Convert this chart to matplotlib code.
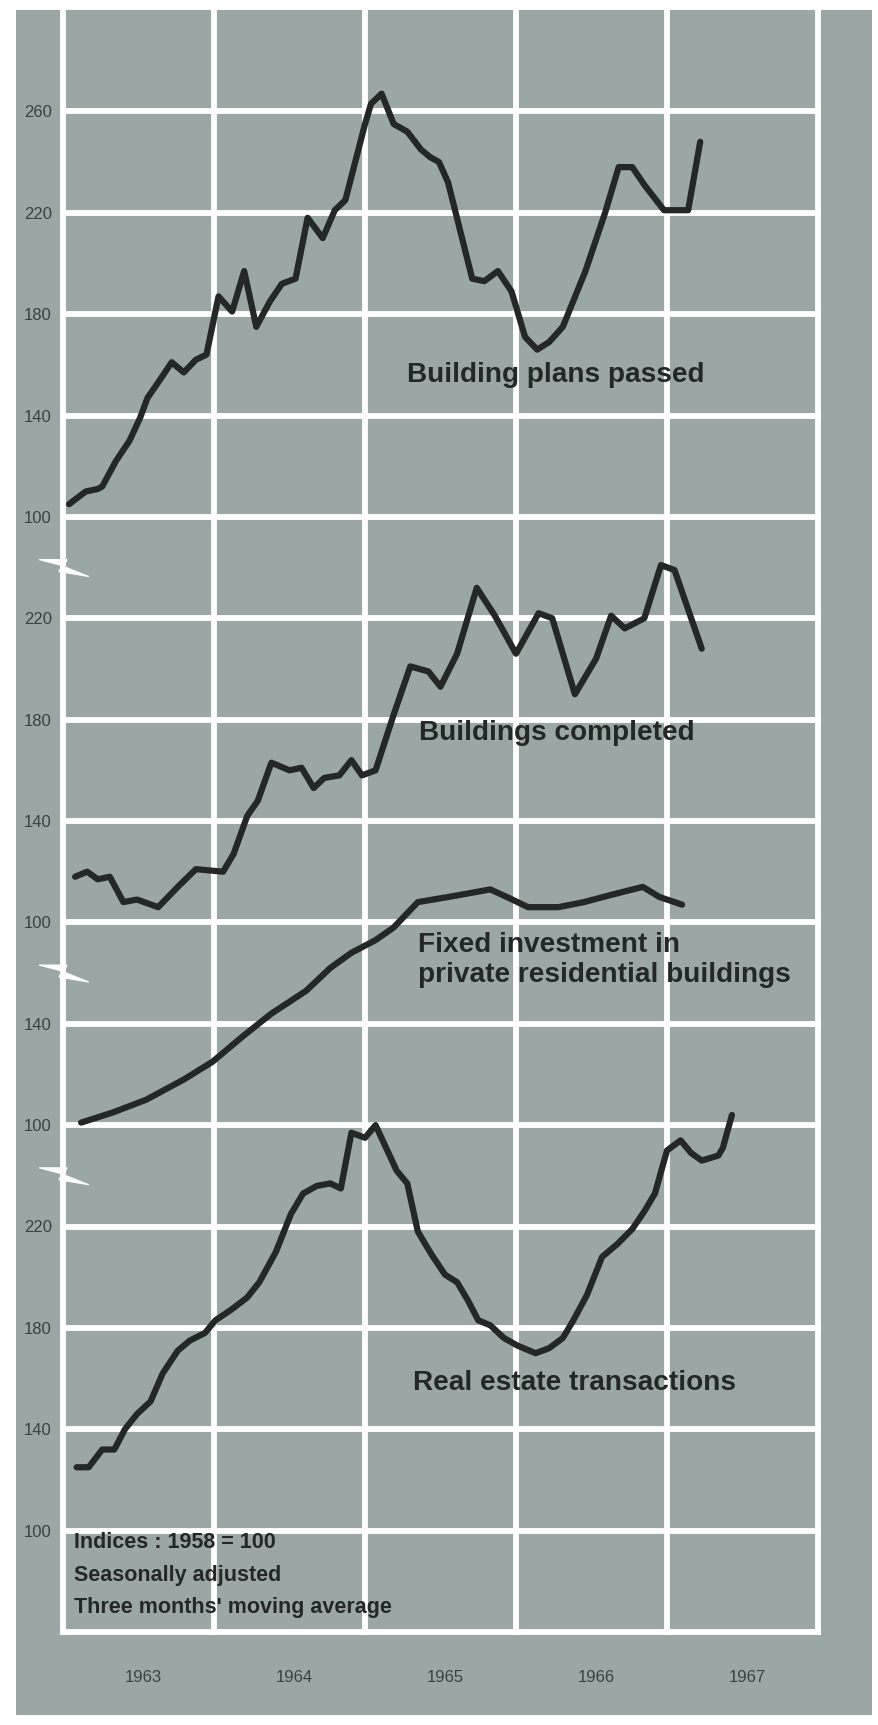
import matplotlib
matplotlib.use('Agg')
import matplotlib.pyplot as plt
from matplotlib import font_manager
from matplotlib.patches import Rectangle, Polygon
from matplotlib.transforms import Affine2D, ScaledTranslation

# ---- data (decimal years, index values) ----
plans_x = [1963.04, 1963.15, 1963.23, 1963.26, 1963.35, 1963.44, 1963.51, 1963.56, 1963.63, 1963.72,
           1963.80, 1963.88, 1963.95, 1964.03, 1964.12, 1964.20, 1964.28, 1964.37, 1964.45, 1964.54,
           1964.62, 1964.72, 1964.80, 1964.87, 1965.00, 1965.04, 1965.11, 1965.19, 1965.28, 1965.37,
           1965.43, 1965.49, 1965.55, 1965.71, 1965.79, 1965.88, 1965.97, 1966.06, 1966.14, 1966.22,
           1966.31, 1966.46, 1966.59, 1966.68, 1966.77, 1966.85, 1966.98, 1967.14, 1967.22]
plans_v = [105, 110, 111, 112, 122, 130, 139, 147, 153, 161,
           157, 162, 164, 187, 181, 197, 175, 185, 192, 194,
           218, 210, 221, 225, 255, 263, 267, 255, 252, 245,
           242, 240, 232, 194, 193, 197, 189, 171, 166, 169,
           175, 197, 220, 238, 238, 231, 221, 221, 248]

completed_x = [1963.08, 1963.16, 1963.23, 1963.31, 1963.40, 1963.49, 1963.63, 1963.76, 1963.88, 1964.06,
               1964.13, 1964.22, 1964.29, 1964.38, 1964.50, 1964.58, 1964.66, 1964.73, 1964.83, 1964.91,
               1964.98, 1965.07, 1965.19, 1965.30, 1965.42, 1965.50, 1965.61, 1965.74, 1965.86, 1966.00,
               1966.15, 1966.24, 1966.39, 1966.53, 1966.63, 1966.72, 1966.85, 1966.96, 1967.05, 1967.23]
completed_v = [118, 120, 117, 118, 108, 109, 106, 114, 121, 120,
               127, 142, 148, 163, 160, 161, 153, 157, 158, 164,
               158, 160, 182, 201, 199, 193, 206, 232, 221, 206,
               222, 220, 190, 204, 221, 216, 220, 241, 239, 208]

fixed_x = [1963.12, 1963.33, 1963.55, 1963.80, 1963.99, 1964.19, 1964.38, 1964.61, 1964.77, 1964.91,
           1965.07, 1965.19, 1965.35, 1965.55, 1965.83, 1965.94, 1966.08, 1966.28, 1966.45, 1966.64,
           1966.84, 1966.95, 1967.10]
fixed_v = [101, 105, 110, 118, 125, 135, 144, 153, 162, 168,
           173, 178, 188, 190, 193, 190, 186, 186, 188, 191,
           194, 190, 187]

estate_x = [1963.09, 1963.17, 1963.26, 1963.34, 1963.41, 1963.49, 1963.58, 1963.66, 1963.76, 1963.84,
            1963.94, 1964.01, 1964.11, 1964.22, 1964.30, 1964.41, 1964.51, 1964.59, 1964.68, 1964.77,
            1964.84, 1964.91, 1965.00, 1965.07, 1965.14, 1965.21, 1965.28, 1965.35, 1965.44, 1965.53,
            1965.61, 1965.68, 1965.75, 1965.83, 1965.92, 1966.01, 1966.13, 1966.22, 1966.31, 1966.38,
            1966.47, 1966.57, 1966.67, 1966.77, 1966.85, 1966.92, 1967.00, 1967.09, 1967.16, 1967.23,
            1967.34, 1967.37, 1967.43]
estate_v = [125, 125, 132, 132, 140, 146, 151, 162, 171, 175,
            178, 183, 187, 192, 198, 210, 225, 233, 236, 237,
            235, 257, 255, 260, 251, 242, 237, 218, 209, 201,
            198, 191, 183, 181, 176, 173, 170, 172, 176, 183,
            193, 208, 213, 219, 226, 233, 250, 254, 249, 246,
            248, 251, 264]

# the four panels share one grid: (first grid row, value on that row)
panel_top = {'plans': (0, 260), 'completed': (5, 220), 'fixed': (9, 140), 'estate': (11, 220)}
step = 40

tick_labels = ['260', '220', '180', '140', '100', '220', '180', '140', '100',
               '140', '100', '220', '180', '140', '100']
years = [1963, 1964, 1965, 1966, 1967]
breaks = [4.5, 8.5, 10.5]

series_labels = {
    'plans': 'Building plans passed',
    'completed': 'Buildings completed',
    'fixed': 'Fixed investment in\nprivate residential buildings',
    'estate': 'Real estate transactions',
}
notes = ['Indices : 1958 = 100', 'Seasonally adjusted', "Three months' moving average"]

# ---- style ----
bg = '#9aa7a4'
ink = '#232826'
tick_ink = '#3b4140'

installed = {f.name for f in font_manager.fontManager.ttflist}
if 'Liberation Sans Narrow' in installed:
    num_font, num_size = 'Liberation Sans Narrow', 14.5
else:
    num_font, num_size = 'Liberation Sans', 12
label_font = 'Liberation Sans' if 'Liberation Sans' in installed else 'DejaVu Sans'


def to_rows(values, panel):
    top_row, top_val = panel_top[panel]
    return [top_row + (top_val - v) / step for v in values]


fig = plt.figure(figsize=(8.79, 17.25), dpi=100)
fig.patch.set_facecolor('white')
fig.patches.append(Rectangle((16 / 879, 10 / 1725), 856 / 879, 1705 / 1725,
                             transform=fig.transFigure, facecolor=bg, edgecolor='none', zorder=-10))

ax = fig.add_axes([63 / 879, 93 / 1725, 755 / 879, 1622 / 1725])
ax.set_zorder(1)
ax.set_facecolor('none')
for s in ax.spines.values():
    s.set_visible(False)
ax.set_xlim(1963, 1968)
ax.set_ylim(15, -1)

# white grid
for yr in range(1963, 1969):
    ax.axvline(yr, color='white', lw=4.2, zorder=1, clip_on=False)
for k in range(16):
    ax.axhline(k, color='white', lw=4.2, zorder=1, clip_on=False)

# scale-break bolts on the left axis (pixel offsets around the axis)
bolt = [(-24, 8), (4, 8), (1, 1), (26, -9), (-4, -4), (-1, 2)]
for b in breaks:
    tr = Affine2D() + ScaledTranslation(1963, b, ax.transData)
    ax.add_patch(Polygon(bolt, closed=True, facecolor='white', edgecolor='white',
                         lw=0.8, joinstyle='miter', transform=tr, clip_on=False, zorder=2))

ax.set_xticks([])
ax.set_yticks(range(len(tick_labels)))
ax.set_yticklabels(tick_labels, fontfamily=num_font, fontsize=num_size, color=tick_ink)
ax.tick_params(axis='y', length=0, pad=8)

for yr in years:
    ax.text(yr + 0.53, 15.45, str(yr), ha='center', va='center', fontfamily=num_font,
            fontsize=num_size, color=tick_ink, clip_on=False)

# series
line_kw = dict(color=ink, lw=4.5, solid_joinstyle='round', solid_capstyle='round', zorder=3)
ax.plot(plans_x, to_rows(plans_v, 'plans'), **line_kw)
ax.plot(completed_x, to_rows(completed_v, 'completed'), **line_kw)
ax.plot(fixed_x, to_rows(fixed_v, 'fixed'), **line_kw)
ax.plot(estate_x, to_rows(estate_v, 'estate'), **line_kw)

label_kw = dict(ha='left', va='center', fontfamily=label_font, fontweight='bold',
                fontsize=20.2, color=ink, zorder=4)
ax.text(1965.28, 2.6, series_labels['plans'], **label_kw)
ax.text(1965.36, 6.13, series_labels['completed'], **label_kw)
ax.text(1965.35, 8.37, series_labels['fixed'], linespacing=1.2, **label_kw)
ax.text(1965.32, 12.54, series_labels['estate'], **label_kw)

for i, note in enumerate(notes):
    ax.text(1963.07, 14.12 + i * 0.32, note, ha='left', va='center', fontfamily=label_font,
            fontweight='bold', fontsize=15.5, color=ink, zorder=4)

fig.savefig('out.png', dpi=100)
